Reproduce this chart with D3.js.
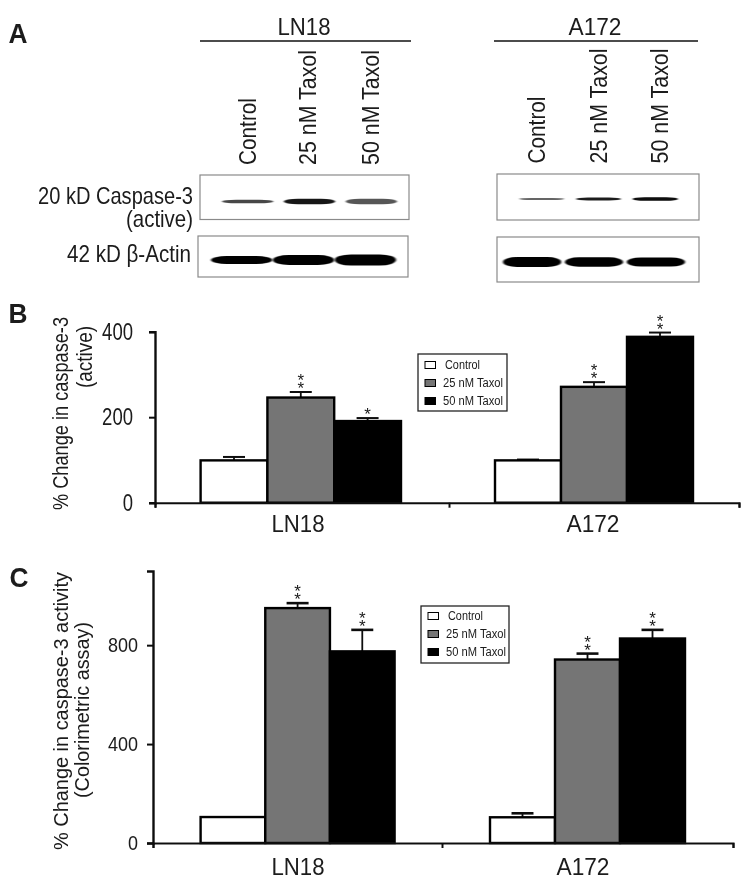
<!DOCTYPE html>
<html><head><meta charset="utf-8">
<script src="https://cdn.jsdelivr.net/npm/d3@7/dist/d3.min.js"></script>
<style>html,body{margin:0;padding:0;background:#fff}svg{display:block}text{font-family:"Liberation Sans",Arial,sans-serif;fill:#1a1a1a}</style>
</head><body><svg id="c" width="750" height="882"></svg>
<script>
const treatments = ["Control", "25 nM Taxol", "50 nM Taxol"];
const cells = ["LN18", "A172"];
const colors = ["#ffffff", "#757575", "#000000"];
// Panel B
const bMeans = [[99, 246, 191], [99, 271, 388]];
const bTops = [[107, 259, 198], [101, 282, 398]];
const bStars = [[0, 2, 1], [0, 2, 2]];
const bTicks = [0, 200, 400];
// Panel C
const cMeans = [[105, 950, 775], [104, 742, 827]];
const cTops = [[105, 970, 862], [120, 766, 862]];
const cStars = [[0, 2, 2], [0, 2, 2]];
const cTicks = [0, 400, 800];
// Panel A band strength (opacity, thickness)
const caspaseLN18 = [[0.72, 3.6], [0.9, 5.5], [0.66, 5.5]];
const caspaseA172 = [[0.6, 1.8], [0.88, 3], [0.97, 3.4]];
const actinLN18 = [[1, 8], [1, 10], [1, 11]];
const actinA172 = [[1, 10], [1, 9.5], [1, 9]];

const svg = d3.select("#c");
const defs = svg.append("defs");
defs.append("filter").attr("id","soft").attr("x","-10%").attr("y","-100%").attr("width","120%").attr("height","300%")
  .append("feGaussianBlur").attr("stdDeviation","0.9 0.6");
defs.append("filter").attr("id","txt").append("feGaussianBlur").attr("stdDeviation","0.3");
const root = svg.append("g").attr("filter","url(#txt)");

function label(g, s, x, y, size, o = {}) {
  const t = g.append("text").attr("x",x).attr("y",y).attr("font-size",size)
    .attr("text-anchor",o.anchor||"middle").attr("font-weight",o.bold?"bold":"normal").text(s);
  if (o.rot) t.attr("transform",`rotate(-90 ${x} ${y})`);
  if (o.len) t.attr("textLength",o.len).attr("lengthAdjust","spacingAndGlyphs");
  return t;
}

/* Panel letters */
label(root,"A",18,43,28,{bold:true,len:19});
label(root,"B",18,323,28,{bold:true,len:19});
label(root,"C",19,587,28,{bold:true,len:19});

/* Panel A */
const A = root.append("g");
[[cells[0],304,200,411],[cells[1],595,494,698]].forEach(([n,cx,x0,x1])=>{
  label(A,n,cx,35,24,{len:53});
  A.append("line").attr("x1",x0).attr("x2",x1).attr("y1",41).attr("y2",41).attr("stroke","#111").attr("stroke-width",1.6);
});
function rotLabels(xs, yb){
  treatments.forEach((t,i)=>label(A,t,xs[i],yb,23,{anchor:"start",rot:true,len:i?115:67}));
}
rotLabels([256,316,378.5],165);
rotLabels([545,607,668],163.5);

function blot(x0,x1,y0,y1,laneRange,bands,bandY,pad,rx){
  A.append("rect").attr("x",x0).attr("y",y0).attr("width",x1-x0).attr("height",y1-y0)
   .attr("fill","#fff").attr("stroke","#8a8a8a").attr("stroke-width",1.2);
  const lane = d3.scaleBand().domain(treatments).range(laneRange).paddingInner(pad);
  A.selectAll(null).data(bands).enter().append("rect")
   .attr("x",(d,i)=>lane(treatments[i]))
   .attr("y",d=>bandY-d[1]/2).attr("width",lane.bandwidth()).attr("height",d=>d[1])
   .attr("rx",rx).attr("ry",d=>d[1]/2)
   .attr("fill","#000").attr("opacity",d=>d[0]).attr("filter","url(#soft)");
}
blot(200,409,175,219.5,[222,397],caspaseLN18,201.5,0.17,14);
blot(497,699,174,220,[519,678],caspaseA172,199,0.2,12);
blot(198,408,236,277,[211,396],actinLN18,260,0.01,16);
blot(497,699,237,282,[503,685],actinA172,262,0.06,14);
label(A,"20 kD Caspase-3",193,204,24,{anchor:"end",len:155});
label(A,"(active)",193,227,24,{anchor:"end",len:67});
label(A,"42 kD β-Actin",191,262,24,{anchor:"end",len:124});

/* Bar panels */
function panel(cfg){
  const g = root.append("g");
  const y = d3.scaleLinear().domain(cfg.domain).range([cfg.y0,cfg.yTop]);
  cfg.means.forEach((ms,ci)=>{
    const x = d3.scaleBand().domain(treatments).range(cfg.groups[ci]);
    ms.forEach((m,ti)=>{
      const t = treatments[ti], cx = x(t)+x.bandwidth()/2;
      const top = cfg.tops[ci][ti];
      if (top>m){
        g.append("line").attr("x1",cx).attr("x2",cx).attr("y1",y(top)).attr("y2",y(m)).attr("stroke","#111").attr("stroke-width",1.8);
        g.append("line").attr("x1",cx-11).attr("x2",cx+11).attr("y1",y(top)).attr("y2",y(top)).attr("stroke","#111").attr("stroke-width",cfg.capW);
      }
      g.append("rect").attr("x",x(t)).attr("y",y(m)).attr("width",x.bandwidth()).attr("height",y(0)-y(m))
       .attr("fill",colors[ti]).attr("stroke","#000").attr("stroke-width",2.4);
      const n = cfg.stars[ci][ti];
      if (n){
        const st = g.append("text").attr("text-anchor","middle").attr("font-size",17);
        d3.range(n).forEach(k=>{
          st.append("tspan").attr("x",cx).attr("y",y(top)+2-(n-1-k)*8).text("*");
        });
      }
    });
  });
  const ya = d3.axisLeft(y).tickValues(cfg.ticks).tickSize(6).tickFormat(d3.format("d"));
  const ag = g.append("g").attr("transform",`translate(${cfg.xAxis},0)`).call(ya);
  ag.select("path").attr("stroke","#111").attr("stroke-width",2.4);
  ag.selectAll("line").attr("stroke","#111").attr("stroke-width",2);
  ag.selectAll("text").attr("font-size",cfg.tickSize).attr("fill","#1a1a1a").attr("dx",-cfg.tickGap)
    .attr("textLength",d=>String(d).length*cfg.digitW).attr("lengthAdjust","spacingAndGlyphs");
  const xs = d3.scalePoint().domain([0,1,2]).range([cfg.xAxis,cfg.xEnd]);
  const xa = d3.axisBottom(xs).tickSize(5).tickFormat("");
  const bg = g.append("g").attr("transform",`translate(0,${cfg.y0})`).call(xa);
  bg.selectAll("path,line").attr("stroke","#111").attr("stroke-width",2);
  bg.selectAll("line").attr("transform",(d,i)=>i===1?`translate(${cfg.midTick-(cfg.xAxis+cfg.xEnd)/2},0)`:null);
  cells.forEach((c,i)=>label(g,c,cfg.catX[i],cfg.catY,24,{len:cfg.catLen}));
  cfg.title.forEach(([s,x,yb,len,fs])=>label(g,s,x,yb,fs,{anchor:"start",rot:true,len:len}));
  const [lx0,lx1,ly0,ly1]=cfg.legend;
  g.append("rect").attr("x",lx0).attr("y",ly0).attr("width",lx1-lx0).attr("height",ly1-ly0).attr("fill","#fff").attr("stroke","#222").attr("stroke-width",1.3);
  const ly = d3.scalePoint().domain(treatments).range(cfg.legY);
  treatments.forEach((t,i)=>{
    g.append("rect").attr("x",lx0+7).attr("y",ly(t)-3.5).attr("width",10.5).attr("height",7).attr("fill",colors[i]).attr("stroke","#000").attr("stroke-width",1);
    label(g,t,lx0+(i?25:27),ly(t)+4,12,{anchor:"start",len:i?60:35});
  });
}
panel({domain:[0,400],y0:502.7,yTop:331.7,groups:[[200.6,401],[495,693]],means:bMeans,tops:bTops,stars:bStars,ticks:bTicks,
  xAxis:155,xEnd:739,midTick:449,tickSize:23,tickGap:13,digitW:10.3,capW:2,
  catX:[298,593],catY:532,catLen:53,legend:[418,507,354,411],legY:[365,401],
  title:[["% Change in caspase-3",68,510,193,22],["(active)",92,388,62,22]]});
panel({domain:[0,1100],y0:843,yTop:571,groups:[[200.6,394.6],[490,685]],means:cMeans,tops:cTops,stars:cStars,ticks:cTicks,
  xAxis:153,xEnd:733,midTick:442,tickSize:21,tickGap:6,digitW:10,capW:2.6,
  catX:[298,583],catY:875,catLen:53,legend:[421,509,606,663],legY:[616,652],
  title:[["%  Change in caspase-3 activity",68,850,278,21],["(Colorimetric assay)",89,798,176,21]]});
</script></body></html>
